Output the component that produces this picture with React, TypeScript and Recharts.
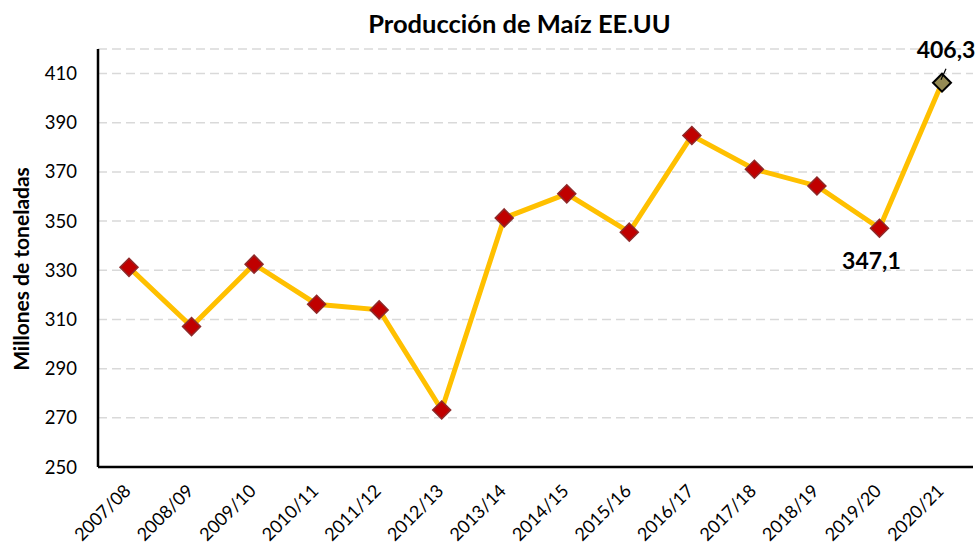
import React from "react";
import { LineChart, Line, XAxis, YAxis, CartesianGrid, LabelList } from "recharts";

const seasons = [
  "2007/08", "2008/09", "2009/10", "2010/11", "2011/12", "2012/13", "2013/14",
  "2014/15", "2015/16", "2016/17", "2017/18", "2018/19", "2019/20", "2020/21",
];
const production = [331.2, 307.1, 332.5, 316.2, 313.9, 273.2, 351.3, 361.1, 345.5, 384.8, 371.1, 364.3, 347.1, 406.3];
const yTicks = [250, 270, 290, 310, 330, 350, 370, 390, 410];
const labeledSeasons = ["2019/20", "2020/21"];
const highlightSeason = "2020/21";
const title = "Producción de Maíz EE.UU";
const yAxisTitle = "Millones de toneladas";

const data = seasons.map((s, i) => ({ season: s, value: production[i] }));

const FONT = "Lato, 'Open Sans', sans-serif";

const Diamond = (props: any) => {
  const { cx, cy, payload } = props;
  if (cx == null || cy == null) return null;
  const hl = payload && payload.season === highlightSeason;
  const r = 9;
  return (
    <path
      d={`M${cx},${cy - r} L${cx + r},${cy} L${cx},${cy + r} L${cx - r},${cy} Z`}
      fill={hl ? "#948A54" : "#C00000"}
      stroke={hl ? "#000000" : "#8E2A2A"}
      strokeWidth={hl ? 2 : 1.5}
    />
  );
};

const XTick = (props: any) => {
  const { x, y, payload } = props;
  const tx = x + 3;
  const ty = y + 25;
  return (
    <text
      x={tx}
      y={ty}
      transform={`rotate(-45 ${tx} ${ty})`}
      textAnchor="end"
      fontFamily={FONT}
      fontSize={18}
      fill="#000"
    >
      {payload.value}
    </text>
  );
};

const YTick = (props: any) => {
  const { x, y, payload } = props;
  return (
    <text x={x - 21} y={y} dy={6.5} textAnchor="end" fontFamily={FONT} fontSize={18.5} fill="#000">
      {payload.value}
    </text>
  );
};

const ValueLabel = (props: any) => {
  const { x, y, value, index } = props;
  const season = seasons[index];
  if (!labeledSeasons.includes(season)) return null;
  const txt = Number(value).toFixed(1).replace(".", ",");
  if (season === highlightSeason) {
    return (
      <g>
        <line x1={x + 4} y1={y - 14} x2={x - 1} y2={y - 3} stroke="#000" strokeWidth={1.2} />
        <text x={x + 4} y={y - 25} textAnchor="middle" fontFamily={FONT} fontWeight="bold" fontSize={23} fill="#000">
          {txt}
        </text>
      </g>
    );
  }
  return (
    <text x={x - 8} y={y + 41} textAnchor="middle" fontFamily={FONT} fontWeight="bold" fontSize={23} fill="#000">
      {txt}
    </text>
  );
};

export default function App() {
  return (
    <div style={{ position: "absolute", left: 0, top: 0, width: 979, height: 545, background: "#fff" }}>
      <LineChart
        width={979}
        height={545}
        data={data}
        margin={{ top: 49, right: 6, bottom: 0, left: 38 }}
      >
        <CartesianGrid vertical={false} stroke="#D9D9D9" strokeWidth={1.5} strokeDasharray="9 5" />
        <XAxis
          dataKey="season"
          interval={0}
          tickLine={false}
          tickSize={0}
          tickMargin={0}
          height={78}
          padding={{ left: 31, right: 31 }}
          axisLine={{ stroke: "#000", strokeWidth: 2.5 }}
          tick={<XTick />}
        />
        <YAxis
          width={60}
          domain={[250, 420]}
          ticks={yTicks}
          interval={0}
          tickLine={false}
          tickSize={0}
          tickMargin={0}
          axisLine={{ stroke: "#000", strokeWidth: 2.5 }}
          tick={<YTick />}
        />
        <Line
          type="linear"
          dataKey="value"
          stroke="#FFC000"
          strokeWidth={5}
          dot={<Diamond />}
          activeDot={false}
          isAnimationActive={false}
        >
          <LabelList dataKey="value" content={<ValueLabel />} />
        </Line>
      </LineChart>
      <svg width={979} height={545} style={{ position: "absolute", left: 0, top: 0, pointerEvents: "none" }}>
        <text x={519.5} y={33} textAnchor="middle" fontFamily={FONT} fontWeight="bold" fontSize={25.5} fill="#000">
          {title}
        </text>
        <text
          x={29}
          y={269}
          transform="rotate(-90 29 269)"
          textAnchor="middle"
          fontFamily={FONT}
          fontWeight="bold"
          fontSize={21}
          fill="#000"
        >
          {yAxisTitle}
        </text>
      </svg>
    </div>
  );
}
